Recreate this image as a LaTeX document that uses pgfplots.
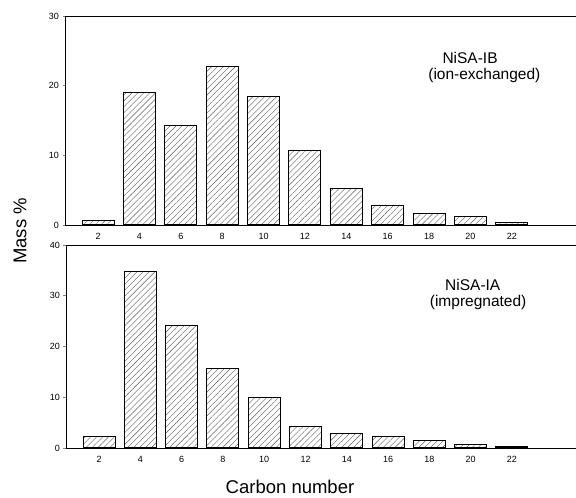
\documentclass[border=0pt]{standalone}
\usepackage{fontspec}
\setmainfont{Liberation Sans}
\usepackage{pgfplots}
\pgfplotsset{compat=1.18}
\usetikzlibrary{patterns.meta}

\pgfplotstableread{
c v
2 0.6
4 19.0
6 14.3
8 22.7
10 18.5
12 10.7
14 5.2
16 2.8
18 1.7
20 1.25
22 0.3
}\topdata

\pgfplotstableread{
c v
2 2.2
4 34.7
6 24.1
8 15.6
10 9.9
12 4.3
14 2.9
16 2.2
18 1.45
20 0.65
22 0.3
}\botdata

\tikzset{ann/.style={font=\fontsize{15.5}{17}\selectfont, inner sep=0pt}}

\begin{document}
\begin{tikzpicture}
\pgfplotsset{
  panel/.style={
    scale only axis, anchor=south west,
    axis x line=box, axis y line=left,
    axis line style={-, line width=0.9pt},
    xmin=0.4, xmax=25.1, ymin=0,
    xtick={2,4,...,22},
    xtick style={draw=none},
    ytick style={line width=0.8pt},
    tick align=outside, major tick length=2.5pt,
    tick label style={font=\fontsize{9}{10}\selectfont},
    /pgf/number format/assume math mode=true,
    xticklabel style={yshift=-2pt},
    ybar, bar width=32pt,
  },
  hbar/.style={draw=black, line width=1pt,
      pattern={Lines[angle=45,distance=4.2pt,line width=0.4pt]},
      pattern color=black!65},
}
\begin{axis}[panel, at={(65pt,273pt)}, width=511pt, height=209pt,
  ymax=30, ytick={0,10,20,30}]
\addplot[hbar] table[x=c,y=v]{\topdata};
\node[ann] at (axis cs:19.98,24.0) {NiSA-IB};
\node[ann] at (axis cs:20.67,21.4) {(ion-exchanged)};
\end{axis}
\begin{axis}[panel, at={(66pt,50pt)}, width=510pt, height=203pt,
  ymax=40, ytick={0,10,20,30,40}]
\addplot[hbar] table[x=c,y=v]{\botdata};
\node[ann] at (axis cs:20.1,32.2) {NiSA-IA};
\node[ann] at (axis cs:20.36,28.7) {(impregnated)};
\end{axis}
\node[rotate=90, font=\fontsize{18.5}{20}\selectfont] at (20pt,267pt) {Mass \%};
\node[font=\fontsize{18.5}{20}\selectfont] at (290pt,11pt) {Carbon number};
\pgfresetboundingbox
\path[use as bounding box] (0pt,0pt) rectangle (576pt,498pt);
\end{tikzpicture}
\end{document}
